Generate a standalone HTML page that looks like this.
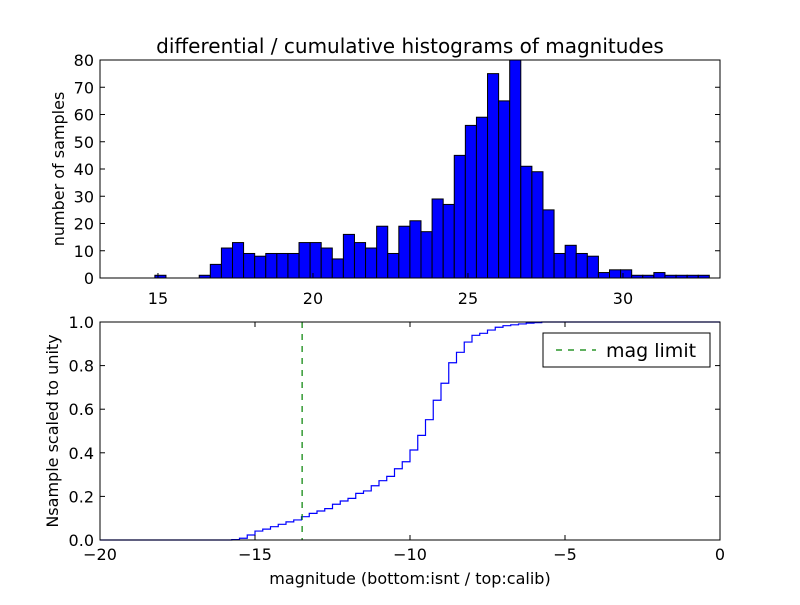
<!DOCTYPE html>
<html><head><meta charset="utf-8"><style>
body{margin:0;background:#fff}
svg text{font-family:"DejaVu Sans","Liberation Sans",sans-serif;fill:#000}
</style></head><body>
<svg id="chart" width="800" height="600" viewBox="0 0 800 600" xmlns="http://www.w3.org/2000/svg">
<rect width="800" height="600" fill="#fff"/>
<text x="410" y="53" font-size="20" text-anchor="middle">differential / cumulative histograms of magnitudes</text>
<g id="topPanel"></g>
<g id="botPanel"></g>
</svg>
<script>
const histStart = 14.9;
const histBinWidth = 0.3577;
const histCounts = [1,0,0,0,1,5,11,13,9,8,9,9,9,13,13,11,7,16,13,11,19,9,19,21,17,29,27,45,56,59,75,65,80,41,39,25,9,12,9,8,2,3,3,1,1,2,1,1,1,1];
const topXTicks = [15,20,25,30];
const topYTicks = [0,10,20,30,40,50,60,70,80];
const cumStart = -15.75;
const cumBinWidth = 0.25;
const cumValues = [0.002,0.008,0.023,0.041,0.050,0.061,0.072,0.083,0.092,0.107,0.122,0.133,0.144,0.164,0.179,0.191,0.214,0.225,0.249,0.272,0.292,0.327,0.359,0.413,0.480,0.552,0.641,0.719,0.813,0.861,0.908,0.939,0.948,0.963,0.976,0.983,0.987,0.991,0.995,0.997,1.0];
const botXTicks = [-20,-15,-10,-5,0];
const botYTicks = [0,0.2,0.4,0.6,0.8,1.0];
const magLimit = -13.48;

const NS="http://www.w3.org/2000/svg";
function mk(parent,tag,attrs,txt){const e=document.createElementNS(NS,tag);for(const k in attrs)e.setAttribute(k,attrs[k]);if(txt!==undefined)e.textContent=txt;parent.appendChild(e);return e;}

const T={x0:100,x1:720,y0:60,y1:278,dmin:13.13,dmax:33.13,ymax:80};
const tx=v=>T.x0+(v-T.dmin)/(T.dmax-T.dmin)*(T.x1-T.x0);
const ty=v=>T.y1-v/T.ymax*(T.y1-T.y0);
const topG=document.getElementById('topPanel');
histCounts.forEach((c,i)=>{
  const a=tx(histStart+i*histBinWidth), b=tx(histStart+(i+1)*histBinWidth);
  if(c<=0) return;
  const r=mk(topG,'rect',{x:a,y:ty(c),width:b-a,height:ty(0)-ty(c),fill:'#0000ff',stroke:'#000','stroke-width':1});
  
  
});
mk(topG,'rect',{x:T.x0,y:T.y0,width:T.x1-T.x0,height:T.y1-T.y0,fill:'none',stroke:'#000','stroke-width':1});
topXTicks.forEach(v=>{
  const x=tx(v);
  mk(topG,'line',{x1:x,x2:x,y1:T.y1,y2:T.y1-5,stroke:'#000'});
  const t=mk(topG,'text',{x:x,y:T.y1+26,'font-size':16,'text-anchor':'middle'},String(v));
  
  
});
topYTicks.forEach(v=>{
  const y=ty(v);
  mk(topG,'line',{x1:T.x0,x2:T.x0+5,y1:y,y2:y,stroke:'#000'});
  mk(topG,'line',{x1:T.x1,x2:T.x1-5,y1:y,y2:y,stroke:'#000'});
  const t=mk(topG,'text',{x:T.x0-6,y:y+6,'font-size':16,'text-anchor':'end'},String(v));
  
  
});
const tyt=mk(topG,'text',{x:64,y:169,'font-size':16,'text-anchor':'middle',transform:'rotate(-90 64 169)'},'number of samples');



const B={x0:100,x1:720,y0:322,y1:540,dmin:-20,dmax:0};
const bx=v=>B.x0+(v-B.dmin)/(B.dmax-B.dmin)*(B.x1-B.x0);
const by=v=>B.y1-v*(B.y1-B.y0);
const botG=document.getElementById('botPanel');
let d='M'+bx(B.dmin)+','+by(0)+' L'+bx(cumStart)+','+by(0);
cumValues.forEach((v,i)=>{
  const a=bx(cumStart+i*cumBinWidth), b=bx(cumStart+(i+1)*cumBinWidth);
  d+=' L'+a+','+by(v)+' L'+b+','+by(v);
});
d+=' L'+bx(B.dmax)+','+by(cumValues[cumValues.length-1]);
const cl=mk(botG,'path',{d:d,fill:'none',stroke:'#0000ff','stroke-width':1.2});


const ml=mk(botG,'line',{x1:bx(magLimit),x2:bx(magLimit),y1:B.y0,y2:B.y1,stroke:'#008000','stroke-width':1.2,'stroke-dasharray':'6,6'});


mk(botG,'rect',{x:B.x0,y:B.y0,width:B.x1-B.x0,height:B.y1-B.y0,fill:'none',stroke:'#000','stroke-width':1});
botXTicks.forEach(v=>{
  const x=bx(v);
  mk(botG,'line',{x1:x,x2:x,y1:B.y1,y2:B.y1-5,stroke:'#000'});
  mk(botG,'line',{x1:x,x2:x,y1:B.y0,y2:B.y0+5,stroke:'#000'});
  const t=mk(botG,'text',{x:x,y:B.y1+20,'font-size':16,'text-anchor':'middle'},v<0?'\u2212'+Math.abs(v):String(v));
  
  
});
botYTicks.forEach(v=>{
  const y=by(v);
  mk(botG,'line',{x1:B.x0,x2:B.x0+5,y1:y,y2:y,stroke:'#000'});
  mk(botG,'line',{x1:B.x1,x2:B.x1-5,y1:y,y2:y,stroke:'#000'});
  const t=mk(botG,'text',{x:B.x0-6,y:y+6,'font-size':16,'text-anchor':'end'},v.toFixed(1));
  
  
});
const byt=mk(botG,'text',{x:58,y:431,'font-size':16,'text-anchor':'middle',transform:'rotate(-90 58 431)'},'Nsample scaled to unity');


const bxt=mk(botG,'text',{x:410,y:584,'font-size':16,'text-anchor':'middle'},'magnitude (bottom:isnt / top:calib)');


const lg=mk(botG,'g',{});


mk(lg,'rect',{x:543,y:333,width:167,height:34,fill:'#fff',stroke:'#000','stroke-width':1});
mk(lg,'line',{x1:556,x2:596,y1:350,y2:350,stroke:'#008000','stroke-width':1.2,'stroke-dasharray':'6,6'});
const lt=mk(lg,'text',{x:606,y:357,'font-size':19},'mag limit');


</script>
</body></html>
